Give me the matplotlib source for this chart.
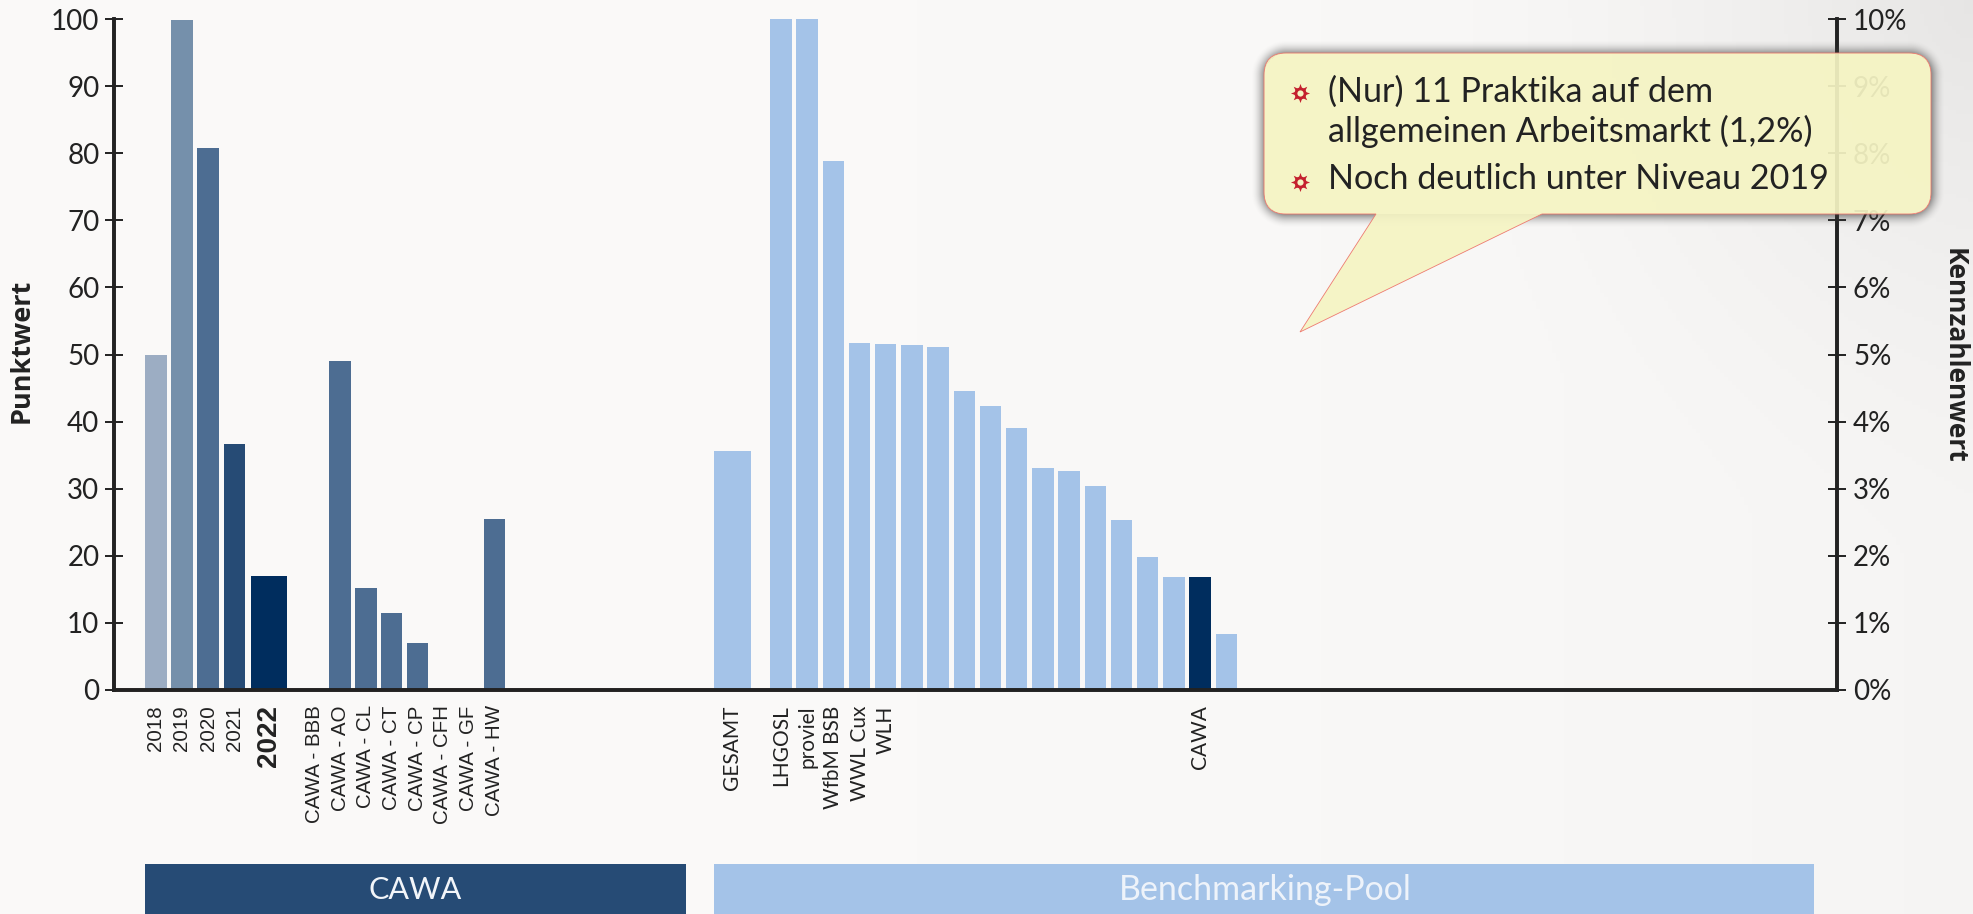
import numpy as np
import matplotlib
matplotlib.use('Agg')
import matplotlib.pyplot as plt
from matplotlib.path import Path
from matplotlib.patches import PathPatch, Rectangle
from matplotlib.ticker import FuncFormatter

W, H = 1974, 914

year_labels = ['2018', '2019', '2020', '2021']
year_values = [50.0, 99.8, 80.8, 36.6]
year_colors = ['#9CADC3', '#7590AB', '#4D6D92', '#264B75']
current_label = '2022'
current_value = 17.0
site_labels = ['CAWA - BBB', 'CAWA - AO', 'CAWA - CL', 'CAWA - CT', 'CAWA - CP',
               'CAWA - CFH', 'CAWA - GF', 'CAWA - HW']
site_values = [0, 49.1, 15.2, 11.5, 7.0, 0, 0, 25.5]
total_label = 'GESAMT'
total_value = 35.6
pool_labels = ['LHGOSL', 'proviel', 'WfbM BSB', 'WWL Cux', 'WLH', '', '', '', '', '',
               '', '', '', '', '', '', 'CAWA', '']
pool_values = [100, 100, 78.8, 51.7, 51.5, 51.4, 51.1, 44.5, 42.3, 39.0,
               33.1, 32.7, 30.4, 25.4, 19.8, 16.9, 16.9, 8.3]
pool_highlight = 'CAWA'
left_ticks = list(range(0, 101, 10))
right_ticks = [i / 100 for i in range(0, 11)]

DARK = '#002D5E'
MID = '#4D6D92'
BAND = '#264B75'
LIGHT = '#A4C3E8'
INK = '#222222'

fig = plt.figure(figsize=(W / 100, H / 100), dpi=100)

# paper background, greyer towards the right and the top right corner
bg = fig.add_axes([0, 0, 1, 1], zorder=-1)
yy, xx = np.mgrid[0:H:4, 0:W:4]
d = np.hypot(W - xx, yy)
shade = 250.5 - 5 * (xx / W) ** 3 - 15 * np.clip(1 - d / 560, 0, 1) ** 1.6
bg.imshow(np.dstack([shade, shade - 1, shade - 2]).astype(np.uint8), extent=[0, W, H, 0],
          aspect='auto', interpolation='bilinear')
bg.axis('off')

# plot area in pixels: x 114..1837, y 19..690
ax = fig.add_axes([114 / W, 1 - 690 / H, 1723 / W, 671 / H])
ax.patch.set_visible(False)

step = 26.2
x0 = 155.8
ax.set_xlim((114 - x0) / step, (1837 - x0) / step)
ax.set_ylim(0, 100)

bar_w = 21.5 / step
wide_w = 36.5 / step
year_x = np.arange(len(year_values))
current_x = 4.32
site_x = 6.06 + np.arange(len(site_values)) * 0.98
total_x = 22.01
pool_x = 23.86 + np.arange(len(pool_values))

ax.bar(year_x, year_values, width=bar_w, color=year_colors)
ax.bar(current_x, current_value, width=wide_w, color=DARK)
ax.bar(site_x, site_values, width=bar_w, color=MID)
ax.bar(total_x, total_value, width=wide_w, color=LIGHT)
pool_colors = [DARK if l == pool_highlight else LIGHT for l in pool_labels]
ax.bar(pool_x, pool_values, width=bar_w, color=pool_colors)

ticks = list(year_x) + [current_x] + list(site_x) + [total_x] + list(pool_x)
labels = year_labels + [current_label] + site_labels + [total_label] + pool_labels
ax.set_xticks(ticks)
ax.set_xticklabels(labels, rotation=90, color=INK)
ax.tick_params(axis='x', length=0, pad=11)
for tick, lab in zip(ax.get_xticklabels(), labels):
    if lab == current_label:
        tick.set_family('Liberation Sans')
        tick.set_fontsize(20)
        tick.set_fontweight('bold')
    elif lab in year_labels or lab in site_labels:
        tick.set_family('Liberation Sans')
        tick.set_fontsize(14.8)
    else:
        tick.set_family('Lato')
        tick.set_fontsize(15)

ax.set_yticks(left_ticks)
ax.tick_params(axis='y', direction='inout', length=13, width=1.4, color=INK, labelcolor=INK,
               labelsize=20, pad=4)
for t in ax.get_yticklabels():
    t.set_family('Lato')
ax.set_ylabel('Punktwert', family='Open Sans', fontweight='bold', fontsize=19.5, color=INK, va='center')
ax.yaxis.set_label_coords((22 - 114) / 1723, 0.505)

ax2 = ax.twinx()
ax2.set_ylim(0, 0.1)
ax2.set_yticks(right_ticks)
ax2.yaxis.set_major_formatter(FuncFormatter(lambda v, pos: f'{v * 100:.0f}%'))
ax2.tick_params(axis='y', direction='inout', length=13, width=1.4, color=INK, labelcolor=INK,
                labelsize=20, pad=5)
for t in ax2.get_yticklabels():
    t.set_family('Lato')
ax2.set_ylabel('Kennzahlenwert', family='Open Sans', fontweight='bold', fontsize=19,
               color=INK, rotation=270, va='center')
ax2.yaxis.set_label_coords((1954 - 114) / 1723, 0.498)

for a in (ax, ax2):
    a.spines['top'].set_visible(False)
    for s in ('left', 'right', 'bottom'):
        a.spines[s].set_linewidth(2.6)
        a.spines[s].set_color(INK)

# overlay in pixel coords for bands and callout
ov = fig.add_axes([0, 0, 1, 1], zorder=10)
ov.set_xlim(0, W)
ov.set_ylim(H, 0)
ov.axis('off')

ov.add_patch(Rectangle((145, 864), 541, 50, color=BAND, lw=0))
ov.add_patch(Rectangle((714, 864), 1100, 50, color=LIGHT, lw=0))
ov.text(415, 890, 'CAWA', color='#F2F5F9', family='Lato', fontsize=22,
        ha='center', va='center', zorder=5)
ov.text(1265, 890, 'Benchmarking-Pool', color='#EEF3FA', family='Lato',
        fontsize=24.5, ha='center', va='center', zorder=5)

# callout shadow from a rounded-box distance field
L, R, T, B, rad = 1264, 1931, 53, 214, 22
sy, sx = np.mgrid[0:H, 0:W]
qx = np.abs(sx - (L + R) / 2) - ((R - L) / 2 - rad)
qy = np.abs(sy - (T + B) / 2) - ((B - T) / 2 - rad)
dist = np.hypot(np.maximum(qx, 0), np.maximum(qy, 0)) + np.minimum(np.maximum(qx, qy), 0) - rad
sh = np.clip(1 - dist / 14, 0, 1) ** 2 * 0.55
sh[dist < 0] = 0
rgba = np.zeros((H, W, 4))
rgba[..., :3] = 0.25
rgba[..., 3] = sh
ov.imshow(rgba, extent=[0, W, H, 0], aspect='auto', zorder=1)
ov.set_xlim(0, W)
ov.set_ylim(H, 0)

tail_l, tail_r, tip = 1376, 1542, (1300, 332)
verts = [(L + rad, T), (R - rad, T), (R, T), (R, T + rad), (R, B - rad), (R, B), (R - rad, B),
         (tail_r, B), tip, (tail_l, B), (L + rad, B), (L, B), (L, B - rad), (L, T + rad),
         (L, T), (L + rad, T), (L + rad, T)]
codes = [Path.MOVETO, Path.LINETO, Path.CURVE3, Path.CURVE3, Path.LINETO, Path.CURVE3, Path.CURVE3,
         Path.LINETO, Path.LINETO, Path.LINETO, Path.LINETO, Path.CURVE3, Path.CURVE3, Path.LINETO,
         Path.CURVE3, Path.CURVE3, Path.CLOSEPOLY]
ov.add_patch(PathPatch(Path(verts, codes), facecolor=(0.96, 0.957, 0.765, 0.93),
                       edgecolor='#EE7A70', lw=0.6, zorder=2))

for line, y in [('(Nur) 11 Praktika auf dem', 102), ('allgemeinen Arbeitsmarkt (1,2%)', 142),
                ('Noch deutlich unter Niveau 2019', 189)]:
    ov.text(1328, y, line, family='Lato', fontsize=24.6, color=INK, va='baseline', zorder=3)
for y in (93, 182):
    ov.scatter([1300], [y], marker=(8, 1, 0), s=190, color='#C4202E', lw=0, zorder=3)
    ov.scatter([1300], [y], marker='o', s=75, color='#C4202E', lw=0, zorder=3)
    ov.scatter([1300], [y], marker='o', s=20, color='#F5F4C3', lw=0, zorder=4)

fig.savefig('out.png', dpi=100)
